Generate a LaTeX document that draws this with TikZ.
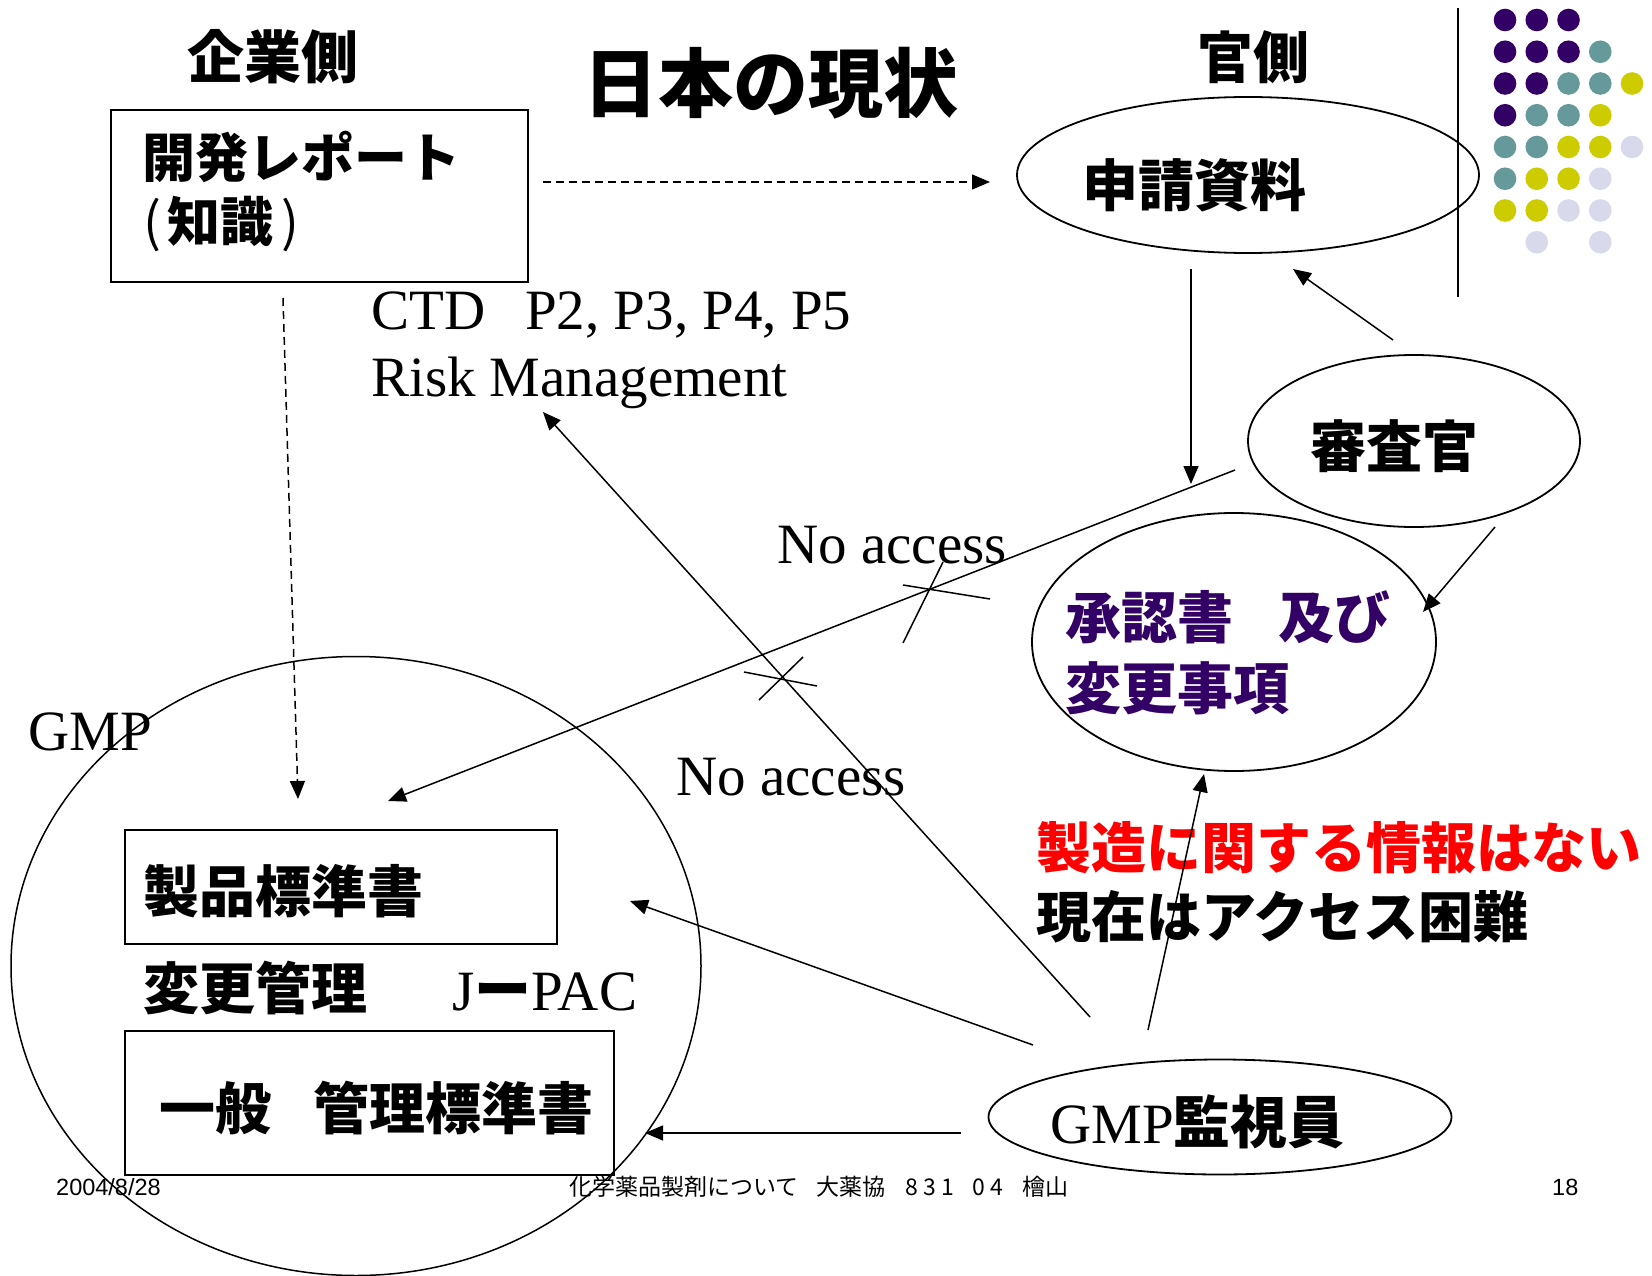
\documentclass[tikz,border=0pt]{standalone}
\usepackage{fontspec}
\setmainfont{Liberation Serif}
\newfontfamily\cjk{Noto Sans CJK JP}
\newfontfamily\arialf{Liberation Sans}
\usetikzlibrary{arrows.meta,shapes.geometric}
\definecolor{dpurple}{HTML}{330066}
\definecolor{dteal}{HTML}{669999}
\definecolor{dyellow}{HTML}{CCCC00}
\definecolor{dlav}{HTML}{D9D9EC}
\begin{document}
\begin{tikzpicture}[x=1pt,y=-1pt,
  conn/.style={line width=1.5pt,-{Triangle[length=18pt,width=15pt]}},
  dconn/.style={conn,dash pattern=on 8pt off 5pt},
  plainln/.style={line width=1.5pt},
  ell/.style={draw,ellipse,line width=1.8pt,inner sep=0pt},
  frame/.style={draw,line width=1.8pt,inner sep=0pt},
  jp/.style={inner sep=0pt,anchor=west,font=\cjk\bfseries\fontsize{56}{62}\selectfont},
  tr/.style={inner sep=0pt,anchor=base west,font=\fontsize{57}{62}\selectfont},
  foot/.style={inner sep=0pt,anchor=base west}
]
\useasboundingbox[fill=white] (0,0) rectangle (1652,1276);

% decorative dots and divider
\draw[line width=2.2pt] (1458,8) -- (1458,297);
\foreach \cx/\ry/\col in {
  0/0/dpurple,1/0/dpurple,2/0/dpurple,
  0/1/dpurple,1/1/dpurple,2/1/dpurple,3/1/dteal,
  0/2/dpurple,1/2/dpurple,2/2/dteal,3/2/dteal,4/2/dyellow,
  0/3/dpurple,1/3/dteal,2/3/dteal,3/3/dyellow,
  0/4/dteal,1/4/dteal,2/4/dyellow,3/4/dyellow,4/4/dlav,
  0/5/dteal,1/5/dyellow,2/5/dyellow,3/5/dlav,
  0/6/dyellow,1/6/dyellow,2/6/dlav,3/6/dlav,
  1/7/dlav,3/7/dlav}
  \fill[\col] (1505+31.75*\cx,20+31.75*\ry) circle[radius=11.3pt];

% shapes
\node[frame,minimum width=417pt,minimum height=172pt] (kaihatsu) at (319.5,196) {};
\node[ell,minimum width=462pt,minimum height=156pt] (shinsei) at (1248,175) {};
\node[ell,minimum width=332pt,minimum height=172pt] (shinsa) at (1414,441) {};
\node[ell,minimum width=404pt,minimum height=258pt] (shonin) at (1234,642) {};
\node[ell,line width=1.5pt,minimum width=690pt,minimum height=619pt] (gmp) at (356,966) {};
\node[frame,minimum width=432pt,minimum height=114pt] (seihin) at (341,887) {};
\node[frame,minimum width=489pt,minimum height=144pt] (ippan) at (369.5,1103) {};
\node[ell,minimum width=463pt,minimum height=115pt] (kanshi) at (1220,1117) {};

% texts
\node[jp,anchor=center,font=\cjk\bfseries\fontsize{57}{62}\selectfont] (kigyo) at (273,57) {企業側};
\node[jp,anchor=center,font=\cjk\bfseries\fontsize{75}{80}\selectfont] (title) at (771,83) {日本の現状};
\node[jp,anchor=center] (kan) at (1253,57) {官側};
\node[jp,font=\cjk\bfseries\fontsize{53}{60}\selectfont] (kaihatsuT) at (142,157) {開発レポート};
\node[jp,font=\cjk\bfseries\fontsize{53}{60}\selectfont] (chishiki) at (143,224) {{\mdseries (}\hspace{6pt}知識\hspace{8pt}{\mdseries )}};
\node[jp] (shinseiT) at (1082,185) {申請資料};
\node[jp] (shinsaT) at (1310,446) {審査官};
\node[jp,text=dpurple] (shoninA) at (1065,617) {承認書\hspace{0.8em}及び};
\node[jp,text=dpurple] (shoninB) at (1065,688) {変更事項};
\node[jp,text=red,font=\cjk\bfseries\fontsize{55}{60}\selectfont] (redT) at (1036,848) {製造に関する情報はない};
\node[jp,font=\cjk\bfseries\fontsize{55}{60}\selectfont] (accessT) at (1036,917) {現在はアクセス困難};
\node[jp] (seihinT) at (143,891) {製品標準書};
\node[jp] (henkouT) at (143,988) {変更管理};
\node[tr] (jpac) at (452,1010) {J{\cjk\bfseries ー}PAC};
\node[jp] (ippanT) at (159,1108) {一般\hspace{0.75em}管理標準書};
\node[tr] (ctd) at (371,329) {CTD\hspace{40pt}P2, P3, P4, P5};
\node[tr] (risk) at (371,396) {Risk Management};
\node[tr] (na1) at (777,563) {No access};
\node[tr] (na2) at (676,795) {No access};
\node[tr] (gmpL) at (28,750) {GMP};
\node[tr] (kanshiT) at (1050,1143) {GMP{\cjk\bfseries 監視員}};

% footer
\node[foot,font=\arialf\fontsize{23.5}{26}\selectfont] (date) at (56,1195) {2004/8/28};
\node[foot,font=\cjk\fontsize{23}{26}\selectfont] (footmid) at (569,1195) {化学薬品製剤について\hspace{18pt}大薬協\hspace{20pt}8 3 1\hspace{18pt}0 4\hspace{20pt}檜山};
\node[foot,font=\arialf\fontsize{23.5}{26}\selectfont] (pagenum) at (1552,1195) {18};

% connector end points
\coordinate (a1s) at (543,182);  \coordinate (a1e) at (990,182);
\coordinate (a2s) at (283,298);  \coordinate (a2e) at (298,799);
\coordinate (a3s) at (1191,269); \coordinate (a3e) at (1191,484);
\coordinate (a4s) at (1393,340); \coordinate (a4e) at (1293,269);
\coordinate (a5s) at (1495,527); \coordinate (a5e) at (1423,612);
\coordinate (a6s) at (1235,470); \coordinate (a6e) at (388,801);
\coordinate (a7s) at (1090,1017); \coordinate (a7e) at (543,412);
\coordinate (a8s) at (1033,1045); \coordinate (a8e) at (630,901);
\coordinate (a9s) at (961,1133); \coordinate (a9e) at (645,1133);
\coordinate (a10s) at (1148,1030); \coordinate (a10e) at (1204,774);

% connectors
\draw[dconn] (a1s) -- (a1e);
\draw[dconn] (a2s) -- (a2e);
\draw[conn] (a3s) -- (a3e);
\draw[conn] (a4s) -- (a4e);
\draw[conn] (a5s) -- (a5e);
\draw[conn] (a6s) -- (a6e);
\draw[conn] (a7s) -- (a7e);
\draw[conn] (a8s) -- (a8e);
\draw[conn] (a9s) -- (a9e);
\draw[conn] (a10s) -- (a10e);

% crossing marks (no access)
\coordinate (x1a) at (943,562); \coordinate (x1b) at (903,643);
\coordinate (x1c) at (903,585); \coordinate (x1d) at (990,599);
\coordinate (x2a) at (803,657); \coordinate (x2b) at (759,700);
\coordinate (x2c) at (744,672); \coordinate (x2d) at (817,686);
\draw[plainln] (x1a) -- (x1b);
\draw[plainln] (x1c) -- (x1d);
\draw[plainln] (x2a) -- (x2b);
\draw[plainln] (x2c) -- (x2d);
\end{tikzpicture}
\end{document}
